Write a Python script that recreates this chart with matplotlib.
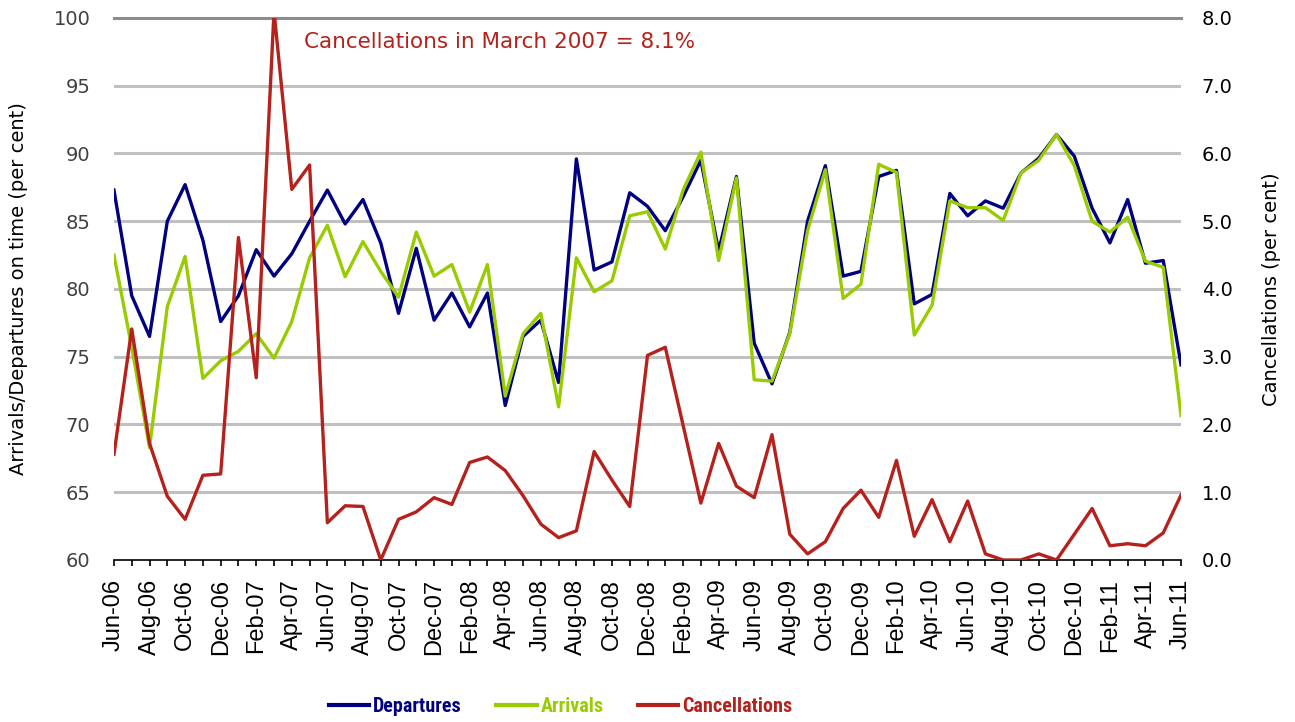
import matplotlib
matplotlib.use("Agg")
import matplotlib.pyplot as plt
import pandas as pd
from matplotlib.lines import Line2D
from matplotlib import font_manager

months = pd.date_range("2006-06-01", "2011-06-01", freq="MS").strftime("%b-%y").tolist()

departures = [87.3, 79.5, 76.5, 85.0, 87.7, 83.6, 77.6, 79.5, 82.9, 80.95,
              82.6, 85.0, 87.3, 84.8, 86.6, 83.4, 78.2, 83.0, 77.7, 79.7,
              77.2, 79.7, 71.4, 76.5, 77.7, 73.1, 89.6, 81.4, 82.0, 87.1,
              86.1, 84.3, 86.8, 89.5, 82.8, 88.3, 76.0, 73.0, 76.8, 85.0,
              89.1, 80.95, 81.3, 88.3, 88.75, 78.9, 79.6, 87.05, 85.4, 86.5,
              85.96, 88.56, 89.65, 91.4, 89.8, 85.96, 83.4, 86.6, 81.9, 82.1,
              74.4]
arrivals = [82.5, 75.7, 68.3, 78.7, 82.4, 73.4, 74.7, 75.4, 76.7, 74.9,
            77.6, 82.3, 84.7, 80.9, 83.5, 81.3, 79.4, 84.2, 80.95, 81.8,
            78.3, 81.8, 72.1, 76.7, 78.2, 71.3, 82.3, 79.8, 80.6, 85.4,
            85.7, 82.95, 87.3, 90.1, 82.1, 88.2, 73.3, 73.2, 76.7, 84.3,
            88.8, 79.3, 80.35, 89.2, 88.6, 76.6, 78.8, 86.5, 86.0, 86.0,
            85.06, 88.56, 89.5, 91.4, 89.1, 85.0, 84.2, 85.3, 82.05, 81.6,
            70.65]
cancellations = [1.56, 3.41, 1.72, 0.94, 0.60, 1.25, 1.27, 4.76, 2.69, 8.1,
                 5.47, 5.83, 0.55, 0.80, 0.79, 0.0, 0.60, 0.71, 0.92, 0.82,
                 1.44, 1.52, 1.32, 0.95, 0.53, 0.33, 0.43, 1.60, 1.18, 0.79,
                 3.02, 3.14, 1.99, 0.84, 1.72, 1.09, 0.92, 1.85, 0.38, 0.09,
                 0.27, 0.76, 1.03, 0.63, 1.47, 0.35, 0.89, 0.27, 0.87, 0.09,
                 0.0, 0.0, 0.09, 0.0, 0.38, 0.76, 0.21, 0.24, 0.21, 0.40,
                 0.96]

annotation = "Cancellations in March 2007 = 8.1%"
legend_labels = ["Departures", "Arrivals", "Cancellations"]

c_dep = "#000080"
c_arr = "#99cc00"
c_can = "#b5211c"

# pick a condensed bold family for the legend if one is installed
available = {f.name for f in font_manager.fontManager.ttflist}
legend_family = "Liberation Sans"
for cand in ["Liberation Sans Narrow", "DejaVu Sans Condensed", "Roboto Condensed", "Open Sans Condensed"]:
    if cand in available:
        legend_family = cand
        break

fig = plt.figure(figsize=(12.95, 7.22), dpi=100)
ax = fig.add_axes([0.088, 0.2244, 0.824, 0.7507])
ax2 = ax.twinx()

x = list(range(len(months)))
ax.plot(x, departures, color=c_dep, lw=2.4, zorder=3)
ax.plot(x, arrivals, color=c_arr, lw=2.4, zorder=4)
ax2.plot(x, cancellations, color=c_can, lw=2.4, zorder=5)

ax.set_xlim(0, len(months) - 1)
ax.set_ylim(60, 100)
ax2.set_ylim(0, 8)
ax.set_yticks(range(60, 101, 5))
ax2.set_yticks(list(range(0, 9)))
ax2.set_yticklabels([f"{i:.1f}" for i in range(0, 9)])

for v in range(65, 100, 5):
    ax.axhline(v, color="#c0c0c0", lw=2.2, zorder=1)
ax.axhline(100, color="#8c8c8c", lw=2.2, zorder=1, clip_on=False)

for a in (ax, ax2):
    for s in ("left", "right", "top"):
        a.spines[s].set_visible(False)
ax.spines["bottom"].set_color("black")
ax.spines["bottom"].set_linewidth(1.2)
ax2.spines["bottom"].set_visible(False)

ax.set_xticks(x)
ax.set_xticklabels([m if i % 2 == 0 else "" for i, m in enumerate(months)],
                   rotation=90, fontsize=17, family="Liberation Sans")
ax.tick_params(axis="x", direction="out", length=4.5, width=1.2, pad=9)
ax.tick_params(axis="y", length=0, pad=17, labelsize=14, labelcolor="#404040")
ax2.tick_params(axis="y", length=0, pad=15, labelsize=14, labelcolor="black")

ax.set_ylabel("Arrivals/Departures on time (per cent)", fontsize=14)
ax2.set_ylabel("Cancellations (per cent)", fontsize=14)
ax.yaxis.set_label_coords(-0.081, 0.5)
ax2.yaxis.set_label_coords(1.076, 0.5)

ax.text(0.178, 0.955, annotation, transform=ax.transAxes, color=c_can,
        fontsize=15.5, ha="left", va="center")

handles = [Line2D([0], [0], color=c_dep, lw=3),
           Line2D([0], [0], color=c_arr, lw=3),
           Line2D([0], [0], color=c_can, lw=3)]
leg = fig.legend(handles, legend_labels,
                 loc="center", bbox_to_anchor=(0.433, 0.021), ncol=3, frameon=False,
                 prop={"family": legend_family, "weight": "bold", "size": 14.5},
                 handlelength=2.0, handletextpad=0.2, columnspacing=1.7)
for t, c in zip(leg.get_texts(), [c_dep, c_arr, c_can]):
    t.set_color(c)

fig.savefig("out.png", dpi=100)
